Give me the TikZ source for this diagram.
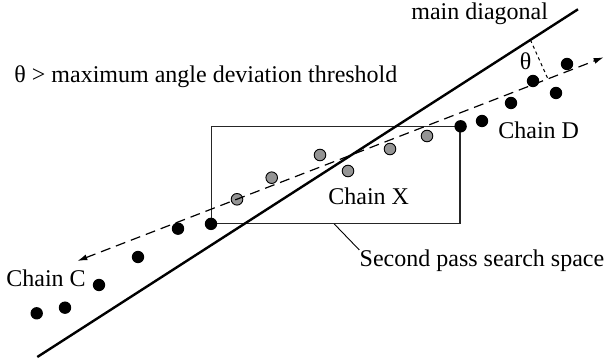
\documentclass[tikz,border=0pt]{standalone}
\usepackage{fontspec}
\setmainfont{Liberation Serif}
\usepackage{tikz}
\usetikzlibrary{arrows.meta,calc}
\tikzset{
  dot/.style={circle, inner sep=0pt, minimum size=6.2pt, fill=black},
  gdot/.style={dot, fill=black!42, draw=black, line width=0.45pt, minimum size=5.8pt},
  lbl/.style={font=\fontsize{12}{14}\selectfont, inner sep=0pt, anchor=base west},
  diag/.style={draw=black, line width=1.2pt},
  trend/.style={{Latex[length=5pt,width=3pt]}-{Latex[length=5pt,width=3pt]}, draw=black,
                line width=0.6pt, dash pattern=on 5pt off 3pt},
  searchbox/.style={rectangle, draw=black!85, line width=0.6pt, inner sep=0pt,
                    minimum width=124.2pt, minimum height=48.2pt},
  angl/.style={draw=black, line width=0.5pt, dash pattern=on 1.6pt off 1.6pt},
  lead/.style={draw=black, line width=0.45pt}
}

\begin{document}
\begin{tikzpicture}[x=0.5pt, y=-0.5pt]
  \useasboundingbox (0,0) rectangle (604,362);

  % second pass search space
  \node[searchbox] (space) at (335.8,175.1) {};

  % chain X
  \node[gdot] (x1) at (237,199.3) {};
  \node[gdot] (x2) at (271.7,177.7) {};
  \node[gdot] (x3) at (320,155) {};
  \node[gdot] (x4) at (348,171) {};
  \node[gdot] (x5) at (390,149) {};
  \node[gdot] (x6) at (427,136) {};

  % lines
  \coordinate (diagL) at (37.3,357);
  \coordinate (diagR) at (578,9.3);
  \coordinate (tipC) at (77.3,261);
  \coordinate (tipD) at (603.7,57.3);
  \draw[trend] (tipC) -- (tipD);
  \draw[diag] (diagL) -- (diagR);
  \coordinate (onDiag) at ($(diagL)!0.912!(diagR)$);
  \coordinate (onTrend) at ($(tipC)!0.894!(tipD)$);
  \draw[angl] (onDiag) -- (onTrend);

  % chain C
  \node[dot] (c1) at (36.7,313.3) {};
  \node[dot] (c2) at (65,307.7) {};
  \node[dot] (c3) at (99,285) {};
  \node[dot] (c4) at (138,257) {};
  \node[dot] (c5) at (178,228.7) {};
  \node[dot] (c6) at (space.south west) {};

  % chain D
  \node[dot] (d1) at (space.north east) {};
  \node[dot] (d2) at (482,121) {};
  \node[dot] (d3) at (511,103) {};
  \node[dot] (d4) at (533,81) {};
  \node[dot] (d5) at (556,93) {};
  \node[dot] (d6) at (567,64) {};

  % labels
  \node[lbl] (diagname) at (411,20) {main diagonal};
  \node[lbl] (rule) at (14,82.5) {θ > maximum angle deviation threshold};
  \node[lbl] (theta) at (519.5,70) {θ};
  \node[lbl] (chainD) at (498,138.3) {Chain D};
  \node[lbl] (chainX) at (328,205) {Chain X};
  \node[lbl] (chainC) at (6,287) {Chain C};
  \node[lbl] (spacename) at (359.3,267) {Second pass search space};
  \coordinate (leadfoot) at ($(space.south west)!0.4935!(space.south east)$);
  \draw[lead] (leadfoot) -- (spacename.north west);
\end{tikzpicture}
\end{document}
